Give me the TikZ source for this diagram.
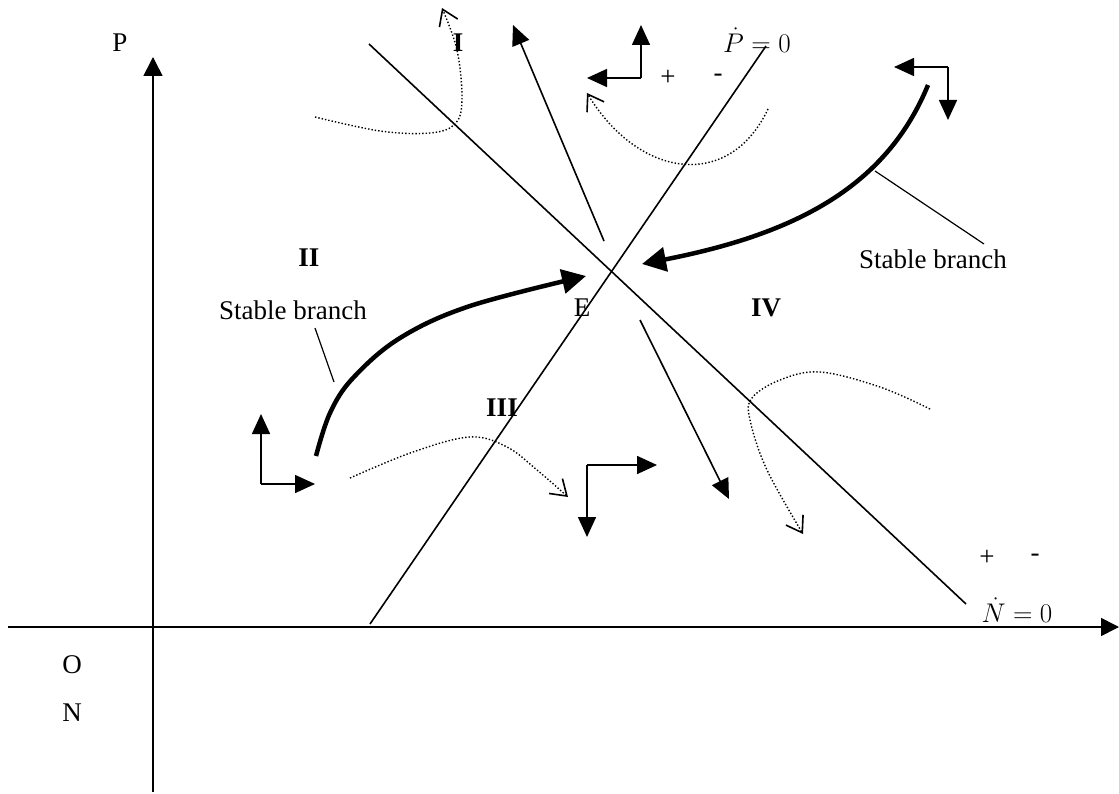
\RequirePackage{fix-cm}
\documentclass[tikz,border=0pt]{standalone}
\usepackage{fontspec}
\setmainfont{Liberation Serif}
\usetikzlibrary{arrows.meta}
\begin{document}
\begin{tikzpicture}[x=1pt,y=-1pt,
  txt/.style={font=\fontsize{27}{30}\selectfont, inner sep=0pt},
  roman/.style={font=\fontsize{27}{30}\selectfont\bfseries, inner sep=0pt},
  thinline/.style={line width=1.6pt},
  solidarrow/.style={thinline, -{Triangle[length=20pt,width=18pt]}},
  flow/.style={line width=1.4pt, dash pattern=on 1.4pt off 2pt, -{Straight Barb[length=15pt,width=20pt,line width=1.6pt]}},
  branch/.style={line width=4.5pt, -{Triangle[length=24pt,width=24pt]}},
]
\useasboundingbox (0,0) rectangle (1119,794);

% axes
\coordinate (xa) at (8,627);
\coordinate (xb) at (1119,627);
\coordinate (ya) at (153,792);
\coordinate (yb) at (153,57);
\draw[thinline, -{Triangle[length=18pt,width=18pt]}] (xa) -- (xb);
\draw[thinline, -{Triangle[length=19pt,width=19pt]}] (ya) -- (yb);

% isoclines
\coordinate (n1) at (369,44);
\coordinate (n2) at (966,604);
\coordinate (p1) at (370,624);
\coordinate (p2) at (766,46);
\draw[thinline] (n1) -- (n2);
\draw[thinline] (p1) -- (p2);

% unstable arrows from E
\coordinate (u1) at (604,241);
\coordinate (u2) at (513,25);
\coordinate (d1) at (640,320);
\coordinate (d2) at (729,499);
\draw[solidarrow] (u1) -- (u2);
\draw[solidarrow] (d1) -- (d2);

% direction arrows
\coordinate (c1) at (261,484);
\coordinate (c1u) at (261,414);
\coordinate (c1r) at (315,484);
\draw[solidarrow] (c1) -- (c1u);
\draw[solidarrow] (c1) -- (c1r);

\coordinate (c2) at (641,78);
\coordinate (c2u) at (641,25);
\coordinate (c2l) at (587,78);
\draw[solidarrow] (c2) -- (c2u);
\draw[solidarrow] (c2) -- (c2l);

\coordinate (c3) at (587,465);
\coordinate (c3d) at (587,537);
\coordinate (c3r) at (657,465);
\draw[solidarrow] (c3) -- (c3d);
\draw[solidarrow] (c3) -- (c3r);

\coordinate (c4) at (948,67);
\coordinate (c4l) at (894,67);
\coordinate (c4d) at (948,120);
\draw[solidarrow] (c4) -- (c4l);
\draw[solidarrow] (c4) -- (c4d);

% stable branches
\coordinate (sL0) at (316,456);
\coordinate (sL1) at (586,276);
\coordinate (sR0) at (928,85);
\coordinate (sR1) at (642,264);
\draw[branch] plot[smooth, tension=0.6] coordinates {(316,456) (330,413) (353,378) (400,338) (470,306) (586,276)};
\draw[branch] (sR0) .. controls (885,190) and (790,235) .. (sR1);

% dotted trajectories
\coordinate (f2a) at (768,109);
\coordinate (f2b) at (587,93);
\draw[flow] plot[smooth, tension=0.6] coordinates {(315,117) (380,131) (430,133) (455,124) (462,100) (457,50) (442,8)};
\draw[flow] (f2a) .. controls (730,190) and (640,180) .. (f2b);
\draw[flow] plot[smooth, tension=0.6] coordinates {(350,478) (413,452) (470,437) (507,447) (537,470) (568,497)};
\draw[flow] plot[smooth, tension=0.6] coordinates {(930,409) (880,387) (820,372) (780,380) (752,398) (750,420) (767,470) (803,534)};

% labels
\node[txt] (lP) at (120,43) {P};
\node[txt] (lO) at (72,665) {O};
\node[txt] (lN) at (72,713) {N};
\node[roman] (rI) at (458,43) {I};
\node[roman] (rII) at (309,258) {II};
\node[roman] (rIII) at (502,408) {III};
\node[roman] (rIV) at (766,308) {IV};
\node[txt] (lE) at (582,308) {E};
\node[txt] (lPdot) at (757,40) {$\dot{P}=0$};
\node[txt] (lNdot) at (1017,610) {$\dot{N}=0$};
\node[txt] (pl1) at (668,78) {+};
\node[txt] (mi1) at (718,78) {-};
\node[txt] (pl2) at (987,558) {+};
\node[txt] (mi2) at (1035,558) {-};

\node[txt] (sbL) at (293,310) {Stable branch};
\node[txt] (sbR) at (933,259) {Stable branch};
\coordinate (sbLa) at (315,328);
\coordinate (sbLb) at (334,382);
\coordinate (sbRa) at (984,244);
\coordinate (sbRb) at (875,171);
\draw[line width=1.2pt] (sbLa) -- (sbLb);
\draw[line width=1.2pt] (sbRa) -- (sbRb);
\end{tikzpicture}
\end{document}
